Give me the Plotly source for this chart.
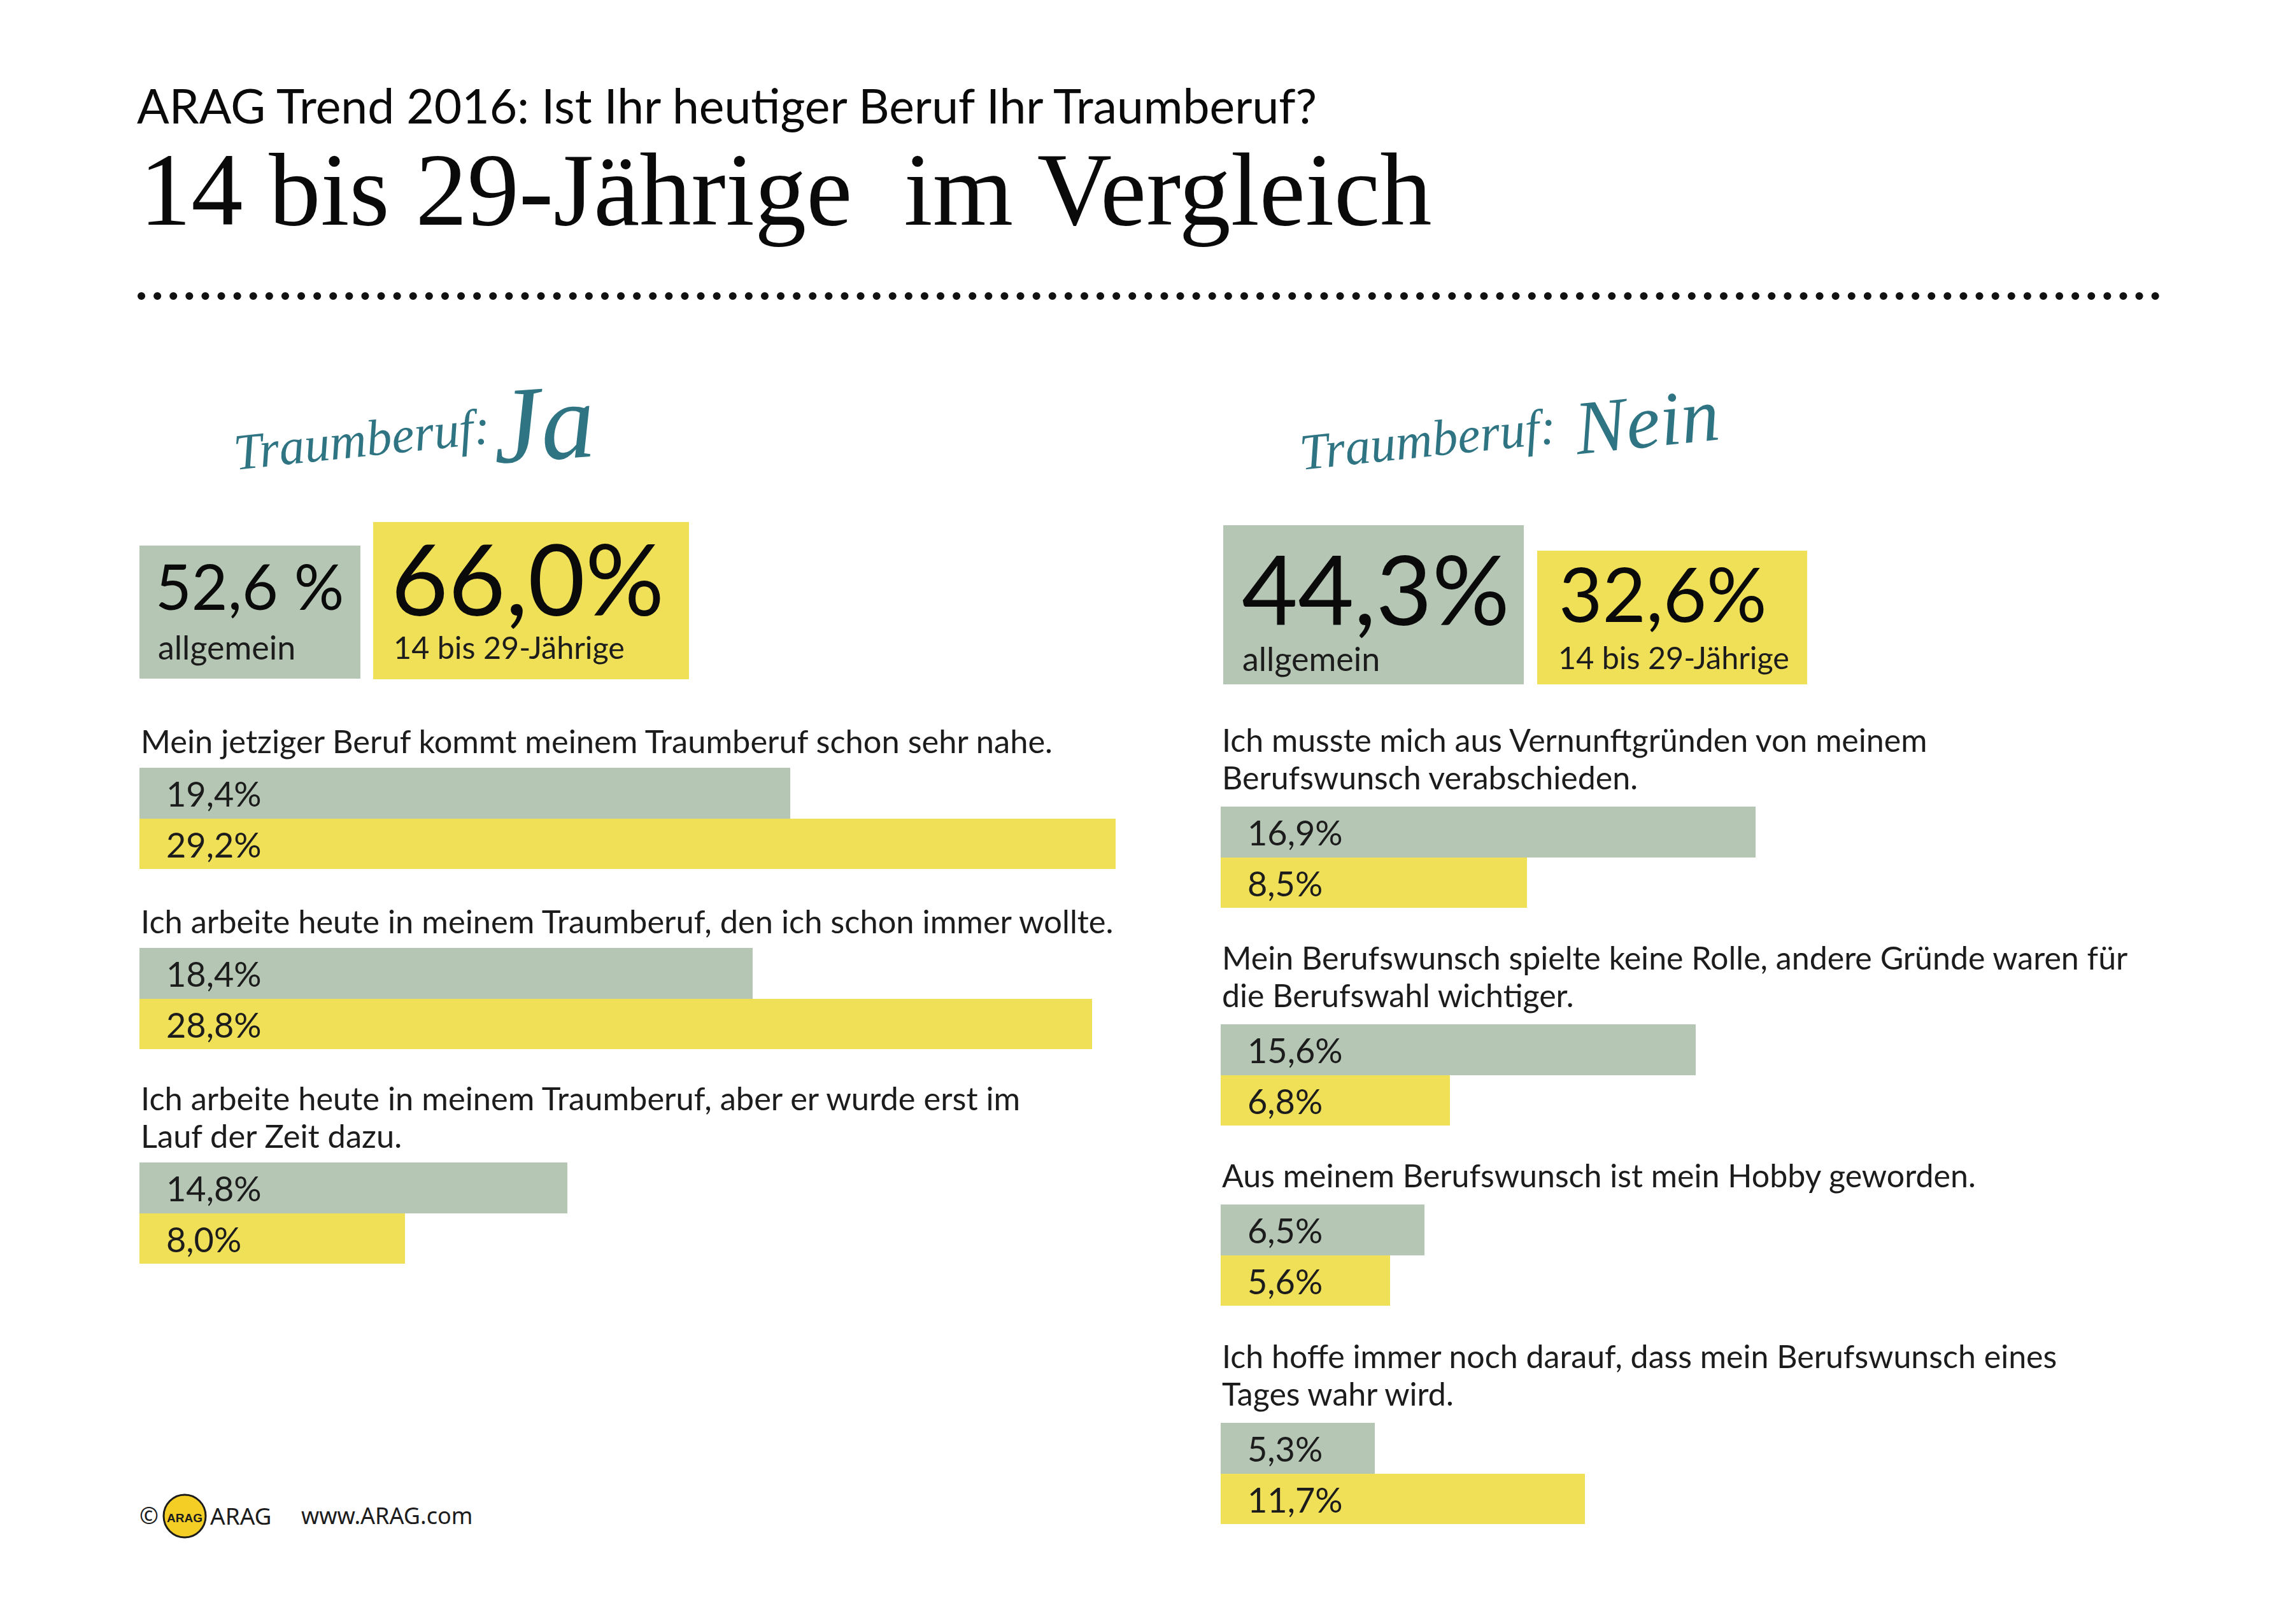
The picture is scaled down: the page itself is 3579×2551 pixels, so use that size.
import plotly.graph_objects as go

W = 3579
H = 2551
GREY = "#b5c7b4"
YELLOW = "#f0e058"
TEAL = "#2f7482"
INK = "#1c1c1c"
BLACK = "#0a0a0a"
HAND = "Liberation Serif"

title_top = "ARAG Trend 2016: Ist Ihr heutiger Beruf Ihr Traumberuf?"
title_main = "14 bis 29-Jährige  im Vergleich"
series_names = ["allgemein", "14 bis 29-Jährige"]

fragen_ja = [
    ["Mein jetziger Beruf kommt meinem Traumberuf schon sehr nahe."],
    ["Ich arbeite heute in meinem Traumberuf, den ich schon immer wollte."],
    ["Ich arbeite heute in meinem Traumberuf, aber er wurde erst im", "Lauf der Zeit dazu."],
]
labels_ja_allgemein = ["19,4%", "18,4%", "14,8%"]
labels_ja_jung = ["29,2%", "28,8%", "8,0%"]
# the bars in the original are not quite to scale with their printed labels,
# so these are the lengths
werte_ja_allgemein = [19.47, 18.35, 12.8]
werte_ja_jung = [29.2, 28.5, 7.95]

fragen_nein = [
    ["Ich musste mich aus Vernunftgründen von meinem", "Berufswunsch verabschieden."],
    ["Mein Berufswunsch spielte keine Rolle, andere Gründe waren für", "die Berufswahl wichtiger."],
    ["Aus meinem Berufswunsch ist mein Hobby geworden."],
    ["Ich hoffe immer noch darauf, dass mein Berufswunsch eines", "Tages wahr wird."],
]
labels_nein_allgemein = ["16,9%", "15,6%", "6,5%", "5,3%"]
labels_nein_jung = ["8,5%", "6,8%", "5,6%", "11,7%"]
werte_nein_allgemein = [16.0, 14.2, 6.1, 4.6]
werte_nein_jung = [9.17, 6.86, 5.07, 10.9]

fig = go.Figure()
notes = []
shapes = []


def px(x):
    return x / W


def py(y):
    return 1 - y / H


def note(text, x, y, size, family="Lato", color=INK, xanchor="left", angle=0, style="normal"):
    notes.append(dict(text=text, x=px(x), y=py(y), xref="paper", yref="paper", showarrow=False,
                      xanchor=xanchor, yanchor="middle", align="left", textangle=angle,
                      font=dict(family=family, size=size, color=color, style=style)))


def box(x0, x1, y0, y1, color):
    shapes.append(dict(type="rect", xref="paper", yref="paper", x0=px(x0), x1=px(x1),
                       y0=py(y1), y1=py(y0), fillcolor=color, line=dict(width=0), layer="below"))


def add_question(n, frage, wert_a, wert_b, label_a, label_b, left, top, text_size, text_shift):
    # one small subplot per question, all with the same x scale
    xname = "x" if n == 1 else f"x{n}"
    yname = "y" if n == 1 else f"y{n}"
    fig.add_trace(go.Bar(y=[series_names[0]], x=[wert_a], orientation="h", marker_color=GREY,
                         marker_line_width=0, xaxis=xname, yaxis=yname, showlegend=False))
    fig.add_trace(go.Bar(y=[series_names[1]], x=[wert_b], orientation="h", marker_color=YELLOW,
                         marker_line_width=0, xaxis=xname, yaxis=yname, showlegend=False))
    suffix = "" if n == 1 else str(n)
    fig.layout[f"xaxis{suffix}"] = dict(domain=[px(left), px(left + 30 * 52.5)], range=[0, 30],
                                        visible=False, anchor=yname, fixedrange=True)
    fig.layout[f"yaxis{suffix}"] = dict(domain=[py(top + 159), py(top)], visible=False, anchor=xname,
                                        type="category", categoryorder="array",
                                        categoryarray=series_names[::-1], fixedrange=True)
    for name, label in zip(series_names, [label_a, label_b]):
        notes.append(dict(text=label, x=0, y=name, xref=xname, yref=yname, showarrow=False,
                          xanchor="left", yanchor="middle", xshift=40, yshift=-1,
                          font=dict(family="Lato", size=54, color=INK)))
    # separate annotations per line, the original has tighter leading than plotly's <br>
    for k, line in enumerate(frage):
        notes.append(dict(text=line, x=0, y=1, xref=f"{xname} domain", yref=f"{yname} domain",
                          showarrow=False, xanchor="left", yanchor="bottom", align="left",
                          yshift=text_shift + 59 * (len(frage) - 1 - k),
                          font=dict(family="Lato", size=text_size, color=INK)))


tops_ja = [1206, 1489, 1826]
tops_nein = [1267, 1609, 1892, 2235]
n = 1
for i in range(3):
    add_question(n, fragen_ja[i], werte_ja_allgemein[i], werte_ja_jung[i],
                 labels_ja_allgemein[i], labels_ja_jung[i], 219, tops_ja[i], 50.6, 10)
    n += 1
for i in range(4):
    add_question(n, fragen_nein[i], werte_nein_allgemein[i], werte_nein_jung[i],
                 labels_nein_allgemein[i], labels_nein_jung[i], 1917, tops_nein[i], 50.1, 14)
    n += 1

# header
note(title_top, 213, 165, 75, color=BLACK)
note(title_main, 217, 298, 162.5, family="Liberation Serif", color=BLACK)
shapes.append(dict(type="line", xref="paper", yref="paper", x0=px(222), x1=px(3392), y0=py(465), y1=py(465),
                   line=dict(color="#111111", width=12, dash="0.1px,25px")))

# handwritten headings
note("Traumberuf:", 568, 690, 80, family=HAND, color=TEAL, xanchor="center", angle=-6, style="italic")
note("Ja", 853, 665, 170, family=HAND, color=TEAL, xanchor="center", angle=-4, style="italic")
note("Traumberuf:", 2242, 690, 80, family=HAND, color=TEAL, xanchor="center", angle=-6, style="italic")
note("Nein", 2586, 662, 120, family=HAND, color=TEAL, xanchor="center", angle=-6, style="italic")

# big numbers
box(219, 566, 857, 1066, GREY)
box(586, 1082, 820, 1067, YELLOW)
box(1921, 2393, 825, 1075, GREY)
box(2414, 2838, 865, 1075, YELLOW)
note("52,6 %", 242, 920, 98, color=BLACK)
note("allgemein", 246, 1016, 52)
note("66,0%", 612, 907, 155, color=BLACK)
note("14 bis 29-Jährige", 616, 1016, 48.5)
note("44,3%", 1948, 923, 152, color=BLACK)
note("allgemein", 1949, 1034, 52)
note("32,6%", 2446, 931, 118, color=BLACK)
note("14 bis 29-Jährige", 2445, 1032, 48.5)

# footer
note("©", 217, 2380, 36, family="Noto Sans")
shapes.append(dict(type="circle", xref="paper", yref="paper", x0=px(257), x1=px(323), y0=py(2415), y1=py(2348),
                   fillcolor="#f4cd25", line=dict(color="#1c1c1c", width=3)))
note("<b>ARAG</b>", 290, 2384, 19, family="Liberation Sans", xanchor="center")
note("ARAG", 328, 2380, 37, family="Noto Sans")
note("www.ARAG.com", 471, 2380, 36, family="Noto Sans")

fig.update_layout(width=W, height=H, margin=dict(l=0, r=0, t=0, b=0), barmode="overlay", bargap=0,
                  paper_bgcolor="white", plot_bgcolor="rgba(0,0,0,0)", annotations=notes, shapes=shapes)

# round dots for the dotted rule, plotly has no linecap option
round_dots = """
document.body.style.margin = '0';
function roundDots() {
    document.querySelectorAll('.shapelayer path').forEach(function (p) {
        if (p.style.strokeDasharray) { p.style.strokeLinecap = 'round'; }
    });
}
roundDots();
setTimeout(roundDots, 200);
"""
fig.write_html("out.html", post_script=round_dots, config={"displayModeBar": False})
